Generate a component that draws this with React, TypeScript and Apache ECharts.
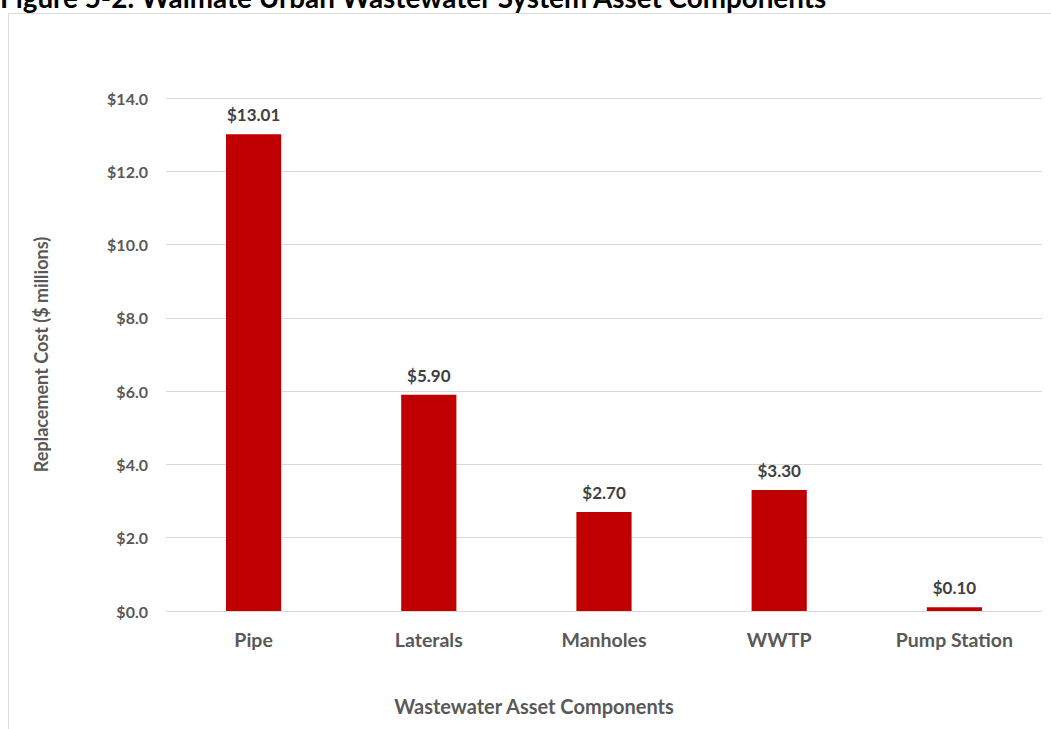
import React, { useEffect, useRef } from "react";
import * as echarts from "echarts";

const categories = ["Pipe", "Laterals", "Manholes", "WWTP", "Pump Station"];
const values = [13.01, 5.9, 2.7, 3.3, 0.1];
const yTicks = [0, 2, 4, 6, 8, 10, 12, 14];
const titleText = "Figure 5-2: Waimate Urban Wastewater System Asset Components";
const xAxisTitle = "Wastewater Asset Components";
const yAxisTitle = "Replacement Cost ($ millions)";

const FONT = "Lato, 'Open Sans', sans-serif";

export default function App() {
  const ref = useRef<HTMLDivElement>(null);
  useEffect(() => {
    if (!ref.current) return;
    const chart = echarts.init(ref.current, null, { renderer: "svg" });
    chart.setOption({
      animation: false,
      backgroundColor: "#ffffff",
      textStyle: { fontFamily: FONT },
      graphic: [
        {
          type: "rect",
          shape: { x: 8.5, y: 13.5, width: 1100, height: 800 },
          style: { fill: "none", stroke: "#d9d9d9", lineWidth: 1 },
          silent: true,
        },
        {
          type: "text",
          left: 0,
          top: -17,
          style: {
            text: titleText,
            font: "bold 27.8px " + FONT,
            fill: "#000000",
          },
        },
      ],
      grid: { left: 166, right: 9, top: 98, bottom: 118 },
      xAxis: {
        type: "category",
        data: categories,
        axisLine: { show: true, lineStyle: { color: "#d9d9d9", width: 1 } },
        axisTick: { show: false },
        axisLabel: {
          margin: 18,
          color: "#595959",
          fontSize: 19.5,
          fontWeight: "bold",
          fontFamily: FONT,
        },
        name: xAxisTitle,
        nameLocation: "middle",
        nameGap: 85,
        nameTextStyle: {
          color: "#595959",
          fontSize: 20,
          fontWeight: "bold",
          fontFamily: FONT,
          padding: [0, 140, 0, 0],
        },
      },
      yAxis: {
        type: "value",
        min: yTicks[0],
        max: yTicks[yTicks.length - 1],
        interval: 2,
        axisLine: { show: false },
        axisTick: { show: false },
        splitLine: { lineStyle: { color: "#d9d9d9", width: 1 } },
        axisLabel: {
          margin: 18,
          color: "#595959",
          fontSize: 16,
          fontWeight: "bold",
          fontFamily: FONT,
          formatter: (v: number) => "$" + v.toFixed(1),
        },
        name: yAxisTitle,
        nameLocation: "middle",
        nameGap: 116,
        nameRotate: 90,
        nameTextStyle: { color: "#595959", fontSize: 18, fontWeight: "bold", fontFamily: FONT },
      },
      series: [
        {
          type: "bar",
          data: values,
          barWidth: "31.5%",
          itemStyle: { color: "#c00000" },
          label: {
            show: true,
            position: "top",
            distance: 11,
            color: "#404040",
            fontSize: 17,
            fontWeight: "bold",
            fontFamily: FONT,
            formatter: (p: any) => "$" + Number(p.value).toFixed(2),
          },
        },
      ],
    });
    return () => chart.dispose();
  }, []);
  return (
    <div
      ref={ref}
      style={{ position: "fixed", left: 0, top: 0, width: 1051, height: 729 }}
    />
  );
}
